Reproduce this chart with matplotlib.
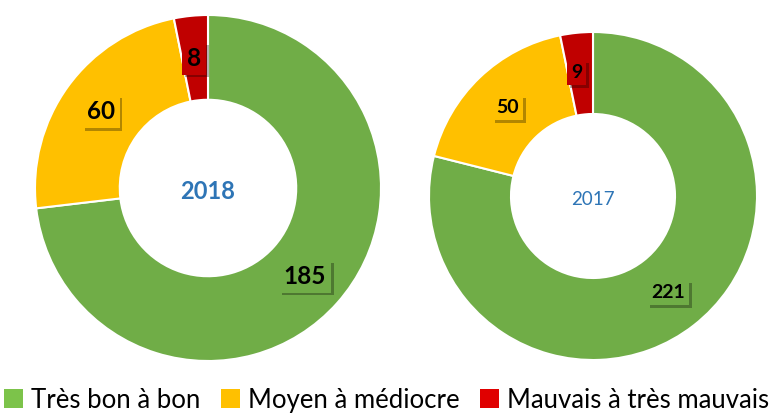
import matplotlib.pyplot as plt
import matplotlib.patheffects as pe
from matplotlib.patches import Patch

plt.rcParams['font.family'] = ['Lato', 'DejaVu Sans']

# Data
categories = ['Très bon à bon', 'Moyen à médiocre', 'Mauvais à très mauvais']
values_2018 = [185, 60, 8]
values_2017 = [221, 50, 9]
colors = ['#70AD47', '#FFC000', '#C00000']
legend_colors = ['#7CC34A', '#FFC000', '#E00000']

W, H = 773, 417
fig = plt.figure(figsize=(W / 100, H / 100), dpi=100)


def donut(cx, cy, r, values, year, hole, lab_pos, fs, year_fs, year_bold):
    ax = fig.add_axes([(cx - r) / W, (H - cy - r) / H, 2 * r / W, 2 * r / H])
    wedges, _ = ax.pie(values, colors=colors, startangle=90, counterclock=False,
                       radius=1, wedgeprops=dict(width=1 - hole, edgecolor='white', linewidth=1.5))
    ax.set_xlim(-1, 1)
    ax.set_ylim(-1, 1)
    ax.set_aspect('equal')
    ax.axis('off')
    for v, c, (x, y) in zip(values, colors, lab_pos):
        t = ax.text(x, y, str(v), ha='center', va='center', fontsize=fs,
                    fontweight='bold', color='black',
                    bbox=dict(boxstyle='square,pad=0.2', facecolor=c, edgecolor='none'))
        t.get_bbox_patch().set_path_effects(
            [pe.SimplePatchShadow(offset=(2, -2), shadow_rgbFace='black', alpha=0.3), pe.Normal()])
    ax.text(0, -0.02, year, ha='center', va='center', fontsize=year_fs,
            color='#2E75B6', fontweight='bold' if year_bold else 'normal')
    return ax


donut(208, 188, 173, values_2018, '2018', 0.51,
      [(0.56, -0.51), (-0.62, 0.44), (-0.08, 0.75)], 17.5, 17, True)
donut(593, 196, 164, values_2017, '2017', 0.50,
      [(0.46, -0.59), (-0.52, 0.54), (-0.10, 0.75)], 14, 13.5, False)

handles = [Patch(facecolor=c, edgecolor='none') for c in legend_colors]
fig.legend(handles, categories, loc='lower center', ncol=3, frameon=False,
           bbox_to_anchor=(0.5, -0.045), handlelength=0.75, handleheight=0.75,
           handletextpad=0.3, columnspacing=0.8, prop={'family': 'Lato', 'size': 18.5})

fig.savefig('out.png', dpi=100)
